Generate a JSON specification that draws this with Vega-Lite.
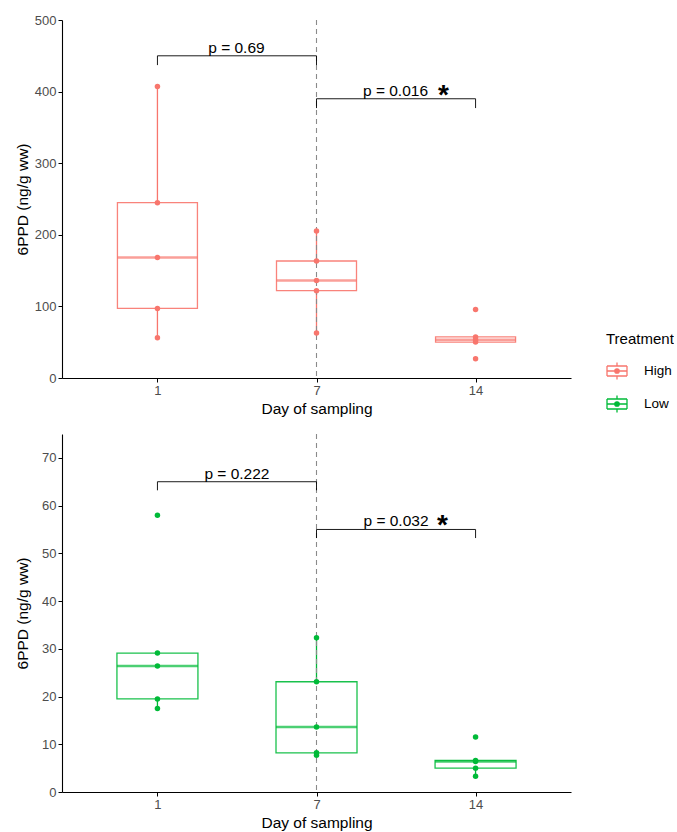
{
  "$schema": "https://vega.github.io/schema/vega-lite/v6.json",
  "padding": {"left": 15, "top": 14, "right": 0, "bottom": 0},
  "datasets": {
    "high": [
      {"day": 1, "value": 56.3, "treatment": "High"},
      {"day": 1, "value": 97.2, "treatment": "High"},
      {"day": 1, "value": 168.4, "treatment": "High"},
      {"day": 1, "value": 244.8, "treatment": "High"},
      {"day": 1, "value": 407, "treatment": "High"},
      {"day": 7, "value": 62.8, "treatment": "High"},
      {"day": 7, "value": 121.9, "treatment": "High"},
      {"day": 7, "value": 136.3, "treatment": "High"},
      {"day": 7, "value": 163.4, "treatment": "High"},
      {"day": 7, "value": 205.3, "treatment": "High"},
      {"day": 14, "value": 27, "treatment": "High"},
      {"day": 14, "value": 50.2, "treatment": "High"},
      {"day": 14, "value": 53.5, "treatment": "High"},
      {"day": 14, "value": 57.3, "treatment": "High"},
      {"day": 14, "value": 95.8, "treatment": "High"}
    ],
    "low": [
      {"day": 1, "value": 17.5, "treatment": "Low"},
      {"day": 1, "value": 19.5, "treatment": "Low"},
      {"day": 1, "value": 26.4, "treatment": "Low"},
      {"day": 1, "value": 29.1, "treatment": "Low"},
      {"day": 1, "value": 58.0, "treatment": "Low"},
      {"day": 7, "value": 7.7, "treatment": "Low"},
      {"day": 7, "value": 8.2, "treatment": "Low"},
      {"day": 7, "value": 13.6, "treatment": "Low"},
      {"day": 7, "value": 23.1, "treatment": "Low"},
      {"day": 7, "value": 32.3, "treatment": "Low"},
      {"day": 14, "value": 3.3, "treatment": "Low"},
      {"day": 14, "value": 5.0, "treatment": "Low"},
      {"day": 14, "value": 6.4, "treatment": "Low"},
      {"day": 14, "value": 6.6, "treatment": "Low"},
      {"day": 14, "value": 11.5, "treatment": "Low"}
    ],
    "segHigh": [
      {"from": 1, "to": 7, "ya": 450, "yb": 450},
      {"from": 1, "to": 1, "ya": 450, "yb": 437},
      {"from": 7, "to": 7, "ya": 450, "yb": 437},
      {"from": 7, "to": 14, "ya": 390, "yb": 390},
      {"from": 7, "to": 7, "ya": 390, "yb": 377},
      {"from": 14, "to": 14, "ya": 390, "yb": 377}
    ],
    "segLow": [
      {"from": 1, "to": 7, "ya": 65, "yb": 65},
      {"from": 1, "to": 1, "ya": 65, "yb": 63.2},
      {"from": 7, "to": 7, "ya": 65, "yb": 63.2},
      {"from": 7, "to": 14, "ya": 55, "yb": 55},
      {"from": 7, "to": 7, "ya": 55, "yb": 53.2},
      {"from": 14, "to": 14, "ya": 55, "yb": 53.2}
    ],
    "labHigh": [
      {"from": 1, "y": 450, "label": "p = 0.69"},
      {"from": 7, "y": 390, "label": "p = 0.016"}
    ],
    "starHigh": [{"day": 14, "y": 390, "label": "*"}],
    "labLow": [
      {"from": 1, "y": 65, "label": "p = 0.222"},
      {"from": 7, "y": 55, "label": "p = 0.032"}
    ],
    "starLow": [{"day": 14, "y": 55, "label": "*"}],
    "vline": [{"day": 7}]
  },
  "vconcat": [
    {
      "width": 509,
      "height": 358,
      "layer": [
        {
          "data": {"name": "high"},
          "mark": {"type": "point", "filled": false, "size": 4, "strokeWidth": 1.3},
          "encoding": {
            "x": {"field": "day", "type": "ordinal", "scale": {"type": "point", "padding": 0.6}, "axis": {"title": "Day of sampling", "labelAngle": 0}},
            "y": {"field": "value", "type": "quantitative", "title": "6PPD (ng/g ww)", "scale": {"domain": [0, 500], "nice": false}, "axis": {"title": "6PPD (ng/g ww)", "titlePadding": 4, "values": [0, 50, 100, 150, 200, 250, 300, 350, 400, 450, 500]}},
            "color": {"field": "treatment", "type": "nominal", "scale": {"domain": ["High", "Low"], "range": ["#F8766D", "#00BA38"]},
              "legend": {"orient": "none", "legendX": 544, "legendY": 312, "title": "Treatment",
                "symbolType": "M0,-0.85V-0.5M0,0.5V0.85M-1,-0.5H1M1,-0.5V0.5M1,0.5H-1M-1,0.5V-0.5M-1,0H1M-0.22,0A0.22,0.22 0 1,0 0.22,0A0.22,0.22 0 1,0 -0.22,0",
                "symbolSize": 400, "symbolStrokeWidth": 1.3, "symbolOpacity": 1, "titleFontSize": 15, "titleFontWeight": "normal", "titleColor": "black",
                "labelFontSize": 13.5, "labelColor": "black", "rowPadding": 9, "titlePadding": 13, "labelOffset": 16}}
          }
        },
        {
          "data": {"name": "high"},
          "mark": {"type": "boxplot", "extent": 1.5, "size": 80, "outliers": false, "ticks": false, "color": "#F8766D",
            "box": {"fill": "white", "stroke": "#F8766D", "strokeWidth": 1.3, "strokeOpacity": 0.9},
            "median": {"color": "#F8766D", "thickness": 2.5},
            "rule": {"stroke": "#F8766D", "strokeWidth": 1.3}},
          "encoding": {
            "x": {"field": "day", "type": "ordinal"},
            "y": {"field": "value", "type": "quantitative", "title": "6PPD (ng/g ww)"}
          }
        },
        {
          "data": {"name": "vline"},
          "mark": {"type": "rule", "strokeDash": [5, 4], "color": "#8a8a8a", "strokeWidth": 1.1},
          "encoding": {"x": {"field": "day", "type": "ordinal"}}
        },
        {
          "data": {"name": "high"},
          "mark": {"type": "circle", "size": 30, "opacity": 1},
          "encoding": {
            "x": {"field": "day", "type": "ordinal"},
            "y": {"field": "value", "type": "quantitative", "title": "6PPD (ng/g ww)"},
            "fill": {"field": "treatment", "type": "nominal", "scale": {"domain": ["High", "Low"], "range": ["#F8766D", "#00BA38"]}, "legend": null}
          }
        },
        {
          "data": {"name": "segHigh"},
          "mark": {"type": "rule", "color": "black", "strokeWidth": 0.9},
          "encoding": {
            "x": {"field": "from", "type": "ordinal"},
            "x2": {"field": "to"},
            "y": {"field": "ya", "type": "quantitative", "title": "6PPD (ng/g ww)"},
            "y2": {"field": "yb"}
          }
        },
        {
          "data": {"name": "labHigh"},
          "mark": {"type": "text", "fontSize": 15.5, "dx": 79, "dy": -3, "baseline": "alphabetic", "align": "center", "color": "black"},
          "encoding": {
            "x": {"field": "from", "type": "ordinal"},
            "y": {"field": "y", "type": "quantitative", "title": "6PPD (ng/g ww)"},
            "text": {"field": "label"}
          }
        },
        {
          "data": {"name": "starHigh"},
          "mark": {"type": "text", "fontSize": 28, "fontWeight": "bold", "dx": -32, "dy": 5, "baseline": "alphabetic", "align": "center", "color": "black"},
          "encoding": {
            "x": {"field": "day", "type": "ordinal"},
            "y": {"field": "y", "type": "quantitative", "title": "6PPD (ng/g ww)"},
            "text": {"field": "label"}
          }
        }
      ]
    },
    {
      "width": 509,
      "height": 358,
      "layer": [
        {
          "data": {"name": "low"},
          "mark": {"type": "boxplot", "extent": 1.5, "size": 81, "outliers": false, "ticks": false, "color": "#00BA38",
            "box": {"fill": "white", "stroke": "#00BA38", "strokeWidth": 1.3, "strokeOpacity": 0.9},
            "median": {"color": "#00BA38", "thickness": 2.5},
            "rule": {"stroke": "#00BA38", "strokeWidth": 1.3}},
          "encoding": {
            "x": {"field": "day", "type": "ordinal", "scale": {"type": "point", "padding": 0.6}, "axis": {"title": "Day of sampling", "labelAngle": 0}},
            "y": {"field": "value", "type": "quantitative", "title": "6PPD (ng/g ww)", "scale": {"domain": [0, 75], "nice": false}, "axis": {"title": "6PPD (ng/g ww)", "titlePadding": 11, "values": [0, 10, 20, 30, 40, 50, 60, 70]}}
          }
        },
        {
          "data": {"name": "vline"},
          "mark": {"type": "rule", "strokeDash": [5, 4], "color": "#8a8a8a", "strokeWidth": 1.1},
          "encoding": {"x": {"field": "day", "type": "ordinal"}}
        },
        {
          "data": {"name": "low"},
          "mark": {"type": "circle", "size": 30, "opacity": 1},
          "encoding": {
            "x": {"field": "day", "type": "ordinal"},
            "y": {"field": "value", "type": "quantitative", "title": "6PPD (ng/g ww)"},
            "fill": {"field": "treatment", "type": "nominal", "scale": {"domain": ["High", "Low"], "range": ["#F8766D", "#00BA38"]}, "legend": null}
          }
        },
        {
          "data": {"name": "segLow"},
          "mark": {"type": "rule", "color": "black", "strokeWidth": 0.9},
          "encoding": {
            "x": {"field": "from", "type": "ordinal"},
            "x2": {"field": "to"},
            "y": {"field": "ya", "type": "quantitative", "title": "6PPD (ng/g ww)"},
            "y2": {"field": "yb"}
          }
        },
        {
          "data": {"name": "labLow"},
          "mark": {"type": "text", "fontSize": 15.5, "dx": 79.5, "dy": -3, "baseline": "alphabetic", "align": "center", "color": "black"},
          "encoding": {
            "x": {"field": "from", "type": "ordinal"},
            "y": {"field": "y", "type": "quantitative", "title": "6PPD (ng/g ww)"},
            "text": {"field": "label"}
          }
        },
        {
          "data": {"name": "starLow"},
          "mark": {"type": "text", "fontSize": 28, "fontWeight": "bold", "dx": -33, "dy": 5, "baseline": "alphabetic", "align": "center", "color": "black"},
          "encoding": {
            "x": {"field": "day", "type": "ordinal"},
            "y": {"field": "y", "type": "quantitative", "title": "6PPD (ng/g ww)"},
            "text": {"field": "label"}
          }
        }
      ]
    }
  ],
  "spacing": 16,
  "resolve": {"scale": {"color": "shared", "fill": "shared"}},
  "config": {
    "font": "Liberation Sans",
    "view": {"stroke": null},
    "axis": {"grid": false, "domainColor": "black", "tickColor": "black", "labelColor": "#4D4D4D", "labelFontSize": 13, "titleFontSize": 15.5, "titleFontWeight": "normal", "titleColor": "black", "tickSize": 4, "labelPadding": 2, "titlePadding": 4, "domainWidth": 1.1, "labelOverlap": false, "labelFont": "Liberation Sans", "titleFont": "Liberation Sans"}
  }
}
